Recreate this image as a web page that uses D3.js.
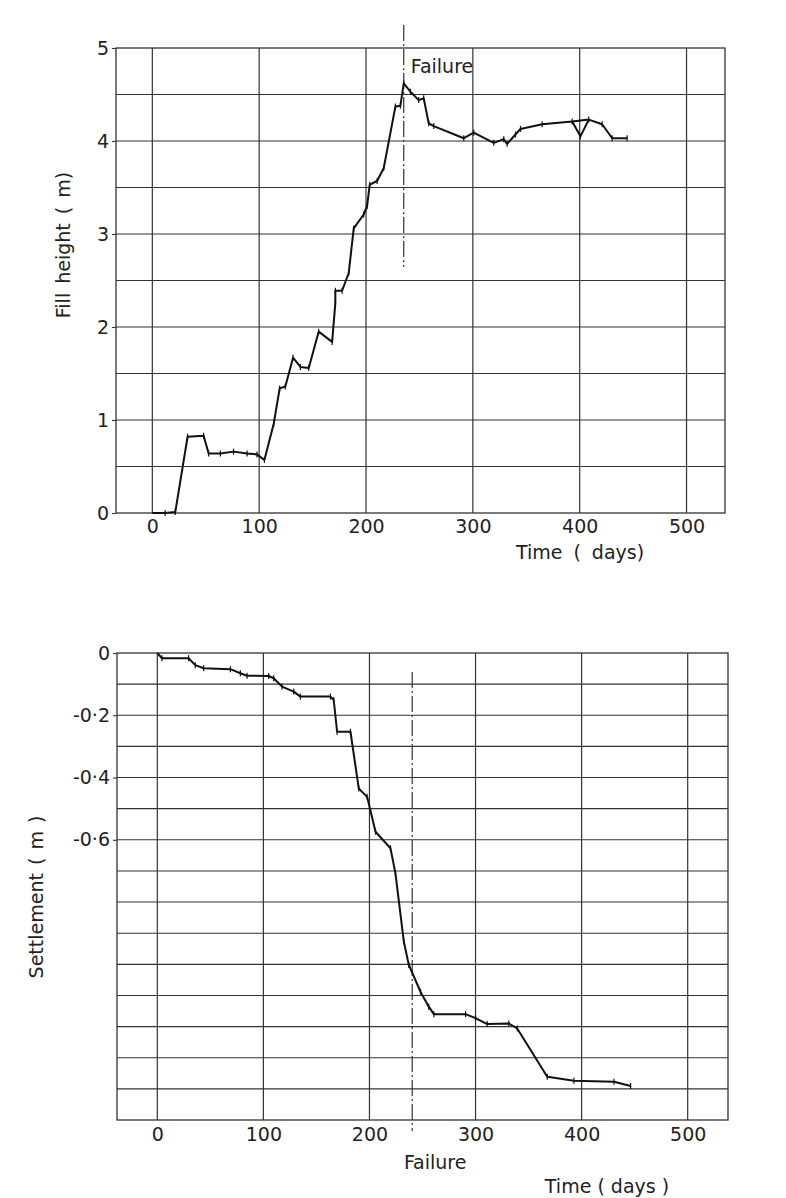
<!DOCTYPE html>
<html>
<head>
<meta charset="utf-8">
<script src="https://cdn.jsdelivr.net/npm/d3@7"></script>
<style>
  html, body { margin: 0; padding: 0; background: #fff; }
  svg { display: block; }
  text { font-family: "DejaVu Sans", sans-serif; fill: #222; }
</style>
</head>
<body>
<svg id="chart" width="786" height="1198"></svg>
<script>
// ---------- DATA ----------
const xTickValues = [0, 100, 200, 300, 400, 500];

// Top chart: fill height (m) vs time (days)
const fillDays    = [0, 12, 21.5, 33, 48, 52.7, 63.7, 76, 88.7, 98, 104.9, 113.6, 119.2, 124.5, 131.7, 138.6, 146.4, 155.7, 168.3, 171.3, 171.3, 177.6, 183.8, 188.5, 197.8, 201, 203.5, 210.4, 216.6, 227.5, 232.2, 235.3, 241.6, 249.3, 254, 258.7, 263.4, 291.5, 300.8, 319.6, 328.9, 332.1, 339.9, 344.6, 364.9, 393, 400.7, 408.5, 421, 430.4, 444.4];
const fillHeights = [0, 0, 0.01, 0.82, 0.83, 0.64, 0.64, 0.66, 0.64, 0.63, 0.57, 0.96, 1.34, 1.36, 1.67, 1.57, 1.56, 1.95, 1.84, 2.26, 2.39, 2.39, 2.58, 3.06, 3.21, 3.30, 3.53, 3.57, 3.71, 4.37, 4.38, 4.62, 4.53, 4.44, 4.46, 4.19, 4.16, 4.03, 4.09, 3.98, 4.02, 3.97, 4.07, 4.13, 4.18, 4.21, 4.05, 4.23, 4.18, 4.03, 4.03];
const fillBranchDays    = [393, 408.5];
const fillBranchHeights = [4.21, 4.23];
const fillYTicks = [0, 1, 2, 3, 4, 5];
const fillYGrid  = [0.5, 1, 1.5, 2, 2.5, 3, 3.5, 4, 4.5];
const failureDayTop = 235.3;

// Bottom chart: settlement (m) vs time (days)
const settleDays   = [0, 4.4, 29.5, 35.8, 43.7, 68.9, 78.3, 84.6, 105, 109.7, 117.6, 128.6, 134.9, 163.2, 166.3, 169.5, 182.1, 189.9, 197.8, 205.7, 219.8, 224.5, 232.4, 237.1, 248.1, 255.9, 260.7, 290.6, 300, 311, 331.4, 339.3, 367.6, 392.7, 430.5, 446.2];
const settleValues = [0, -0.017, -0.017, -0.039, -0.049, -0.052, -0.065, -0.073, -0.074, -0.081, -0.108, -0.124, -0.14, -0.14, -0.151, -0.253, -0.253, -0.435, -0.462, -0.574, -0.627, -0.708, -0.927, -1.002, -1.088, -1.136, -1.16, -1.16, -1.173, -1.192, -1.19, -1.206, -1.361, -1.374, -1.377, -1.391];
const settleYTickValues = [0, -0.2, -0.4, -0.6];
const settleYTickLabels = ["0", "-0·2", "-0·4", "-0·6"];
const settleYGrid = [-0.1, -0.2, -0.3, -0.4, -0.5, -0.6, -0.7, -0.8, -0.9, -1.0, -1.1, -1.2, -1.3, -1.4];
const failureDayBottom = 240.3;

// ---------- DRAW ----------
const svg = d3.select("#chart");
const gridColor = "#333";
const FONT = 19;

function drawPanel(opt) {
  const g = svg.append("g");
  const x = opt.x, y = opt.y;
  const [x0, x1] = x.range();
  const [yb, yt] = y.range();

  // horizontal grid
  g.selectAll(".hg").data(opt.yGrid).join("line")
    .attr("x1", x0).attr("x2", x1)
    .attr("y1", d => y(d)).attr("y2", d => y(d))
    .attr("stroke", gridColor).attr("stroke-width", 1.1);
  // vertical grid
  g.selectAll(".vg").data(xTickValues).join("line")
    .attr("x1", d => x(d)).attr("x2", d => x(d))
    .attr("y1", yb).attr("y2", yt)
    .attr("stroke", gridColor).attr("stroke-width", 1.2);
  // frame
  g.append("rect").attr("x", x0).attr("y", yt)
    .attr("width", x1 - x0).attr("height", yb - yt)
    .attr("fill", "none").attr("stroke", gridColor).attr("stroke-width", 1.3);

  // axes (labels)
  const ax = g.append("g").attr("transform", `translate(0,${yb})`)
    .call(d3.axisBottom(x).tickValues(xTickValues).tickSize(0).tickPadding(opt.xPad).tickFormat(d3.format("d")));
  ax.select(".domain").remove();
  ax.selectAll("text").style("font-size", FONT + "px").style("font-family", '"DejaVu Sans", sans-serif').attr("fill", "#222");

  const ay = g.append("g").attr("transform", `translate(${x0},0)`)
    .call(d3.axisLeft(y).tickValues(opt.yTicks).tickSize(4).tickPadding(3).tickFormat(opt.yFormat));
  ay.select(".domain").remove();
  ay.selectAll("line").attr("stroke", gridColor).attr("stroke-width", 1.1);
  ay.selectAll("text").style("font-size", FONT + "px").style("font-family", '"DejaVu Sans", sans-serif').attr("fill", "#222");

  // failure line
  g.append("line")
    .attr("x1", x(opt.failureDay)).attr("x2", x(opt.failureDay))
    .attr("y1", opt.failY1).attr("y2", opt.failY2)
    .attr("stroke", "#333").attr("stroke-width", 1.2)
    .attr("stroke-dasharray", "16,3,2,3");

  // data lines
  const line = d3.line().x(d => x(d[0])).y(d => y(d[1]));
  opt.series.forEach(s => {
    const pts = s.days.map((d, i) => [d, s.vals[i]]);
    g.append("path").datum(pts).attr("d", line)
      .attr("fill", "none").attr("stroke", "#111").attr("stroke-width", 2)
      .attr("stroke-linejoin", "round");
    if (s.markers) {
      g.selectAll(null).data(pts.slice(1)).join("line")
        .attr("x1", d => x(d[0])).attr("x2", d => x(d[0]))
        .attr("y1", d => y(d[1]) - 3).attr("y2", d => y(d[1]) + 3)
        .attr("stroke", "#111").attr("stroke-width", 1.2);
    }
  });
  return g;
}

// Top panel
const xTop = d3.scaleLinear().domain([-34, 536]).range([116, 725]);
const yTop = d3.scaleLinear().domain([0, 5]).range([513, 48]);
drawPanel({
  x: xTop, y: yTop, yGrid: fillYGrid, yTicks: fillYTicks,
  yFormat: d3.format("d"), xPad: 7,
  failureDay: failureDayTop, failY1: 25, failY2: 267,
  series: [
    { days: fillDays, vals: fillHeights, markers: true },
    { days: fillBranchDays, vals: fillBranchHeights, markers: false }
  ]
});
svg.append("text").attr("x", xTop(failureDayTop) + 7).attr("y", 73)
  .style("font-size", FONT + "px").text("Failure");
svg.append("text")
  .attr("transform", "translate(70,245) rotate(-90)")
  .attr("text-anchor", "middle")
  .style("font-size", FONT + "px").style("word-spacing", "3px").text("Fill height ( m)");
svg.append("text").attr("x", 580).attr("y", 559).attr("text-anchor", "middle")
  .style("font-size", FONT + "px").style("word-spacing", "5px").text("Time ( days)");

// Bottom panel
const xBot = d3.scaleLinear().domain([-38, 538]).range([117, 728]);
const yBot = d3.scaleLinear().domain([-1.5, 0]).range([1120, 653]);
drawPanel({
  x: xBot, y: yBot, yGrid: settleYGrid, yTicks: settleYTickValues,
  yFormat: (d, i) => settleYTickLabels[i], xPad: 8,
  failureDay: failureDayBottom, failY1: 672, failY2: 1131,
  series: [ { days: settleDays, vals: settleValues, markers: true } ]
});
svg.append("text").attr("x", xBot(failureDayBottom) + 23).attr("y", 1169).attr("text-anchor", "middle")
  .style("font-size", FONT + "px").text("Failure");
svg.append("text")
  .attr("transform", "translate(43,897) rotate(-90)")
  .attr("text-anchor", "middle")
  .style("font-size", FONT + "px").style("word-spacing", "2px").text("Settlement ( m )");
svg.append("text").attr("x", 607).attr("y", 1193).attr("text-anchor", "middle")
  .style("font-size", FONT + "px").text("Time ( days )");
</script>
</body>
</html>
